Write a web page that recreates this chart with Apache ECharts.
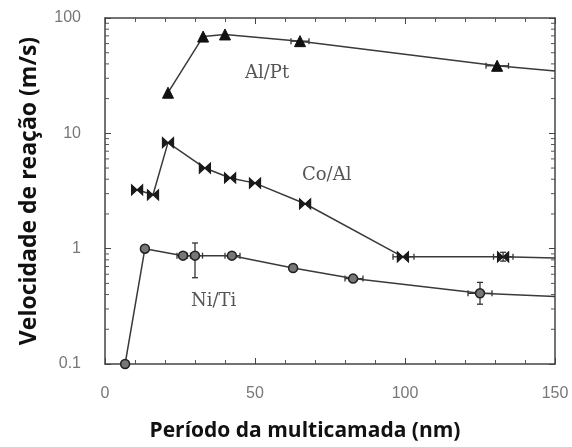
<!DOCTYPE html>
<html><head><meta charset="utf-8">
<script src="https://cdn.jsdelivr.net/npm/echarts@6/dist/echarts.min.js"></script>
<style>html,body{margin:0;padding:0;background:#fff}#c{width:572px;height:447px}</style>
</head><body><div id="c"></div>
<script>
// Data
const alptX = [21, 32.7, 40, 65, 130.7, 150];
const alptY = [22.5, 69, 72, 63, 38.5, 34.7];
const coalX = [10.7, 16, 21, 33.3, 41.7, 50, 66.7, 99.3, 132.7, 150];
const coalY = [3.24, 2.93, 8.3, 5.0, 4.1, 3.7, 2.45, 0.85, 0.85, 0.83];
const nitiX = [6.7, 13.3, 26, 30, 42.3, 62.7, 82.7, 125, 150];
const nitiY = [0.1, 1.0, 0.87, 0.87, 0.87, 0.68, 0.55, 0.41, 0.385];
// error bars: [x, y, xLow, xHigh, yLow, yHigh]
const errBars = [
  [30, 0.87, 27.5, 32.5, 0.56, 1.12],
  [125, 0.41, 121, 129, 0.33, 0.51],
  [132.7, 0.85, 129.5, 136, 0.78, 0.93],
  [99.3, 0.85, 96, 103, 0.85, 0.85],
  [82.7, 0.55, 80, 86, 0.55, 0.55],
  [42.3, 0.87, 40, 45, 0.87, 0.87],
  [26, 0.87, 24, 28.5, 0.87, 0.87],
  [65, 63, 62, 68, 63, 63],
  [130.7, 38.5, 127, 134.5, 38.5, 38.5]
];
const xTicks = [0, 50, 100, 150];
const yTicks = [0.1, 1, 10, 100];
const yMinor = [0.2,0.3,0.4,0.5,0.6,0.7,0.8,0.9,2,3,4,5,6,7,8,9,20,30,40,50,60,70,80,90];

const lineCol = '#3a3a3a';
function pts(xs, ys){ return xs.map((x,i)=> i===xs.length-1 && x===150 ? {value:[x,ys[i]], symbol:'none'} : [x, ys[i]]); }

const chart = echarts.init(document.getElementById('c'));
const axisCommon = {
  axisLine:{show:true, onZero:false, lineStyle:{color:'#444', width:1.5}},
  axisTick:{inside:true, length:6, lineStyle:{color:'#444'}},
  splitLine:{show:false}
};
chart.setOption({
  animation:false,
  grid:{left:105, right:17, top:18, bottom:83, containLabel:false, outerBoundsMode:'none'},
  xAxis:[
    Object.assign({type:'value', min:0, max:150, interval:50, position:'bottom',
      axisLabel:{color:'#777', fontSize:16, fontFamily:'Liberation Sans', margin:22},
      minorTick:{show:true, splitNumber:5, length:4, lineStyle:{color:'#555'}},
      name:'Período da multicamada (nm)', nameLocation:'middle', nameGap:57,
      nameTextStyle:{color:'#111', fontSize:21, fontWeight:'bold', fontFamily:'Open Sans', padding:[0,50,0,0]}}, axisCommon),
    Object.assign({type:'value', min:0, max:150, interval:50, position:'top', axisLabel:{show:false},
      minorTick:{show:true, splitNumber:5, length:4, lineStyle:{color:'#555'}}}, axisCommon)
  ],
  yAxis:[
    Object.assign({type:'log', logBase:10, min:0.1, max:100, position:'left',
      axisLabel:{color:'#777', fontSize:16, fontFamily:'Liberation Sans', margin:24,
        formatter:v=>String(v)},
      name:'Velocidade de reação (m/s)', nameLocation:'middle', nameGap:64, nameRotate:90,
      nameTextStyle:{color:'#111', fontSize:23, fontWeight:'bold', fontFamily:'Open Sans'}}, axisCommon),
    Object.assign({type:'log', logBase:10, min:0.1, max:100, position:'right', axisLabel:{show:false}}, axisCommon)
  ],
  series:[
    {type:'custom', name:'minorY', xAxisIndex:0, yAxisIndex:0, silent:true, z:1,
     data: yMinor.map(v=>[0,v]),
     renderItem:(params, api)=>{
       const l = api.coord([0, api.value(1)]);
       const r = api.coord([150, api.value(1)]);
       return {type:'group', children:[
         {type:'line', shape:{x1:l[0], y1:l[1], x2:l[0]+4, y2:l[1]}, style:{stroke:'#555', lineWidth:1}},
         {type:'line', shape:{x1:r[0], y1:r[1], x2:r[0]-4, y2:r[1]}, style:{stroke:'#555', lineWidth:1}}
       ]};
     }},
    {type:'custom', name:'err', silent:true, z:3,
     data: errBars,
     renderItem:(params, api)=>{
       const xl = api.coord([api.value(2), api.value(1)]);
       const xh = api.coord([api.value(3), api.value(1)]);
       const yl = api.coord([api.value(0), api.value(4)]);
       const yh = api.coord([api.value(0), api.value(5)]);
       const c = [];
       const st = {stroke:'#333', lineWidth:1.3};
       c.push({type:'line', shape:{x1:xl[0], y1:xl[1], x2:xh[0], y2:xh[1]}, style:st});
       c.push({type:'line', shape:{x1:xl[0], y1:xl[1]-3, x2:xl[0], y2:xl[1]+3}, style:st});
       c.push({type:'line', shape:{x1:xh[0], y1:xh[1]-3, x2:xh[0], y2:xh[1]+3}, style:st});
       if (Math.abs(yl[1]-yh[1])>1){
         c.push({type:'line', shape:{x1:yl[0], y1:yl[1], x2:yh[0], y2:yh[1]}, style:st});
         c.push({type:'line', shape:{x1:yl[0]-3, y1:yl[1], x2:yl[0]+3, y2:yl[1]}, style:st});
         c.push({type:'line', shape:{x1:yh[0]-3, y1:yh[1], x2:yh[0]+3, y2:yh[1]}, style:st});
       }
       return {type:'group', children:c};
     }},
    {type:'line', name:'Al/Pt', data:pts(alptX, alptY), symbol:'triangle', symbolSize:11,
     lineStyle:{color:lineCol, width:1.5}, itemStyle:{color:'#111', borderColor:'#111'}, z:4},
    {type:'line', name:'Co/Al', data:pts(coalX, coalY), symbol:'path://M0,0 L10,10 L10,0 L0,10 Z', symbolSize:[11,10],
     lineStyle:{color:lineCol, width:1.5}, itemStyle:{color:'#1a1a1a', borderColor:'#1a1a1a', borderWidth:1.2}, z:4},
    {type:'line', name:'Ni/Ti', data:pts(nitiX, nitiY), symbol:'circle', symbolSize:9,
     lineStyle:{color:lineCol, width:1.5}, itemStyle:{color:'#777', borderColor:'#222', borderWidth:1.5}, z:4}
  ],
  graphic:[
    {type:'text', left:245, top:64, style:{text:'Al/Pt', font:'18px "DejaVu Serif"', fill:'#555'}},
    {type:'text', left:302, top:166, style:{text:'Co/Al', font:'18px "DejaVu Serif"', fill:'#555'}},
    {type:'text', left:191, top:292, style:{text:'Ni/Ti', font:'18px "DejaVu Serif"', fill:'#555'}}
  ]
});
</script></body></html>
